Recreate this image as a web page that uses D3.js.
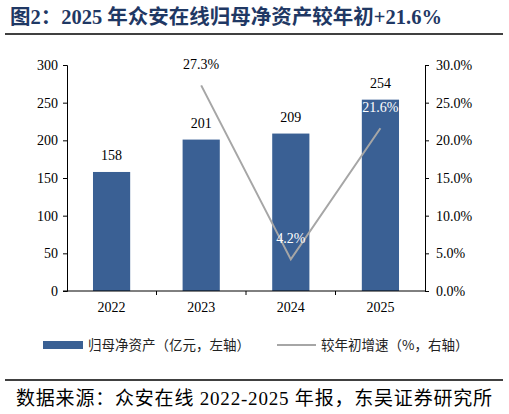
<!DOCTYPE html>
<html>
<head>
<meta charset="utf-8">
<script src="https://cdn.jsdelivr.net/npm/d3@7"></script>
<style>
  body { margin: 0; background: #fff; }
  svg { display: block; }
  text { font-family: "Liberation Serif", "Times New Roman", "Noto Sans CJK SC", serif; }
</style>
</head>
<body>
<svg width="509" height="414"></svg>
<script>
// data
var years = ['2022', '2023', '2024', '2025'];
var netAssets = [158, 201, 209, 254];          // 亿元, left axis
var growth = [null, 27.3, 4.2, 21.6];          // %, right axis
var leftTicks = [0, 50, 100, 150, 200, 250, 300];
var rightTicks = [0, 5, 10, 15, 20, 25, 30];

var svg = d3.select('svg');
var plotLeft = 67, plotRight = 425, plotTop = 65, plotBottom = 291;

// title + rule
svg.append('text')
    .attr('x', 10).attr('y', 24)
    .attr('fill', '#1F3864')
    .attr('font-size', 20.5).attr('font-weight', 'bold')
    .style('font-family', '"Liberation Serif", "Noto Sans CJK SC", serif')
    .text('图2：2025 年众安在线归母净资产较年初+21.6%');
svg.append('line').attr('x1', 5).attr('x2', 503).attr('y1', 34).attr('y2', 34)
    .attr('stroke', '#000').attr('stroke-width', 1.5);

var x = d3.scaleBand().domain(years).range([plotLeft, plotRight]).paddingInner(0.585).paddingOuter(0.29);
var xb = d3.scaleBand().domain(years).range([plotLeft, plotRight]); // for boundary ticks
var y = d3.scaleLinear().domain([0, 300]).range([plotBottom, plotTop]);
var y2 = d3.scaleLinear().domain([0, 30]).range([plotBottom, plotTop]);

// bars
svg.selectAll('.bar').data(netAssets).enter().append('rect')
    .attr('x', (d, i) => x(years[i]))
    .attr('width', x.bandwidth())
    .attr('y', d => y(d))
    .attr('height', d => plotBottom - y(d))
    .attr('fill', '#3A6094');

svg.selectAll('.blab').data(netAssets).enter().append('text')
    .attr('x', (d, i) => x(years[i]) + x.bandwidth() / 2)
    .attr('y', d => y(d) - 12)
    .attr('text-anchor', 'middle').attr('font-size', 14).attr('fill', '#000')
    .text(d => d);

// left axis
var gl = svg.append('g').attr('transform', 'translate(' + plotLeft + ',0)')
    .call(d3.axisLeft(y).tickValues(leftTicks).tickSize(4).tickPadding(5));
// right axis
var gr = svg.append('g').attr('transform', 'translate(' + plotRight + ',0)')
    .call(d3.axisRight(y2).tickValues(rightTicks).tickSize(4).tickPadding(7)
        .tickFormat(d => d.toFixed(1) + '%'));
[gl, gr].forEach(g => {
    g.select('.domain').attr('stroke', '#000');
    g.selectAll('.tick line').attr('stroke', '#000');
    g.selectAll('.tick text').attr('font-size', 14).attr('fill', '#000')
        .style('font-family', '"Liberation Serif", serif');
});

// bottom axis
svg.append('line').attr('x1', plotLeft - 4).attr('x2', plotRight).attr('y1', plotBottom).attr('y2', plotBottom)
    .attr('stroke', '#000');
svg.selectAll('.xt').data(years.slice(1)).enter().append('line')
    .attr('x1', d => xb(d)).attr('x2', d => xb(d))
    .attr('y1', plotBottom).attr('y2', plotBottom + 4).attr('stroke', '#000');
svg.selectAll('.xl').data(years).enter().append('text')
    .attr('x', d => x(d) + x.bandwidth() / 2).attr('y', plotBottom + 21)
    .attr('text-anchor', 'middle').attr('font-size', 14).attr('fill', '#000')
    .text(d => d);

// growth line
var pts = growth.map((g, i) => ({ year: years[i], v: g })).filter(d => d.v !== null);
var line = d3.line().x(d => x(d.year) + x.bandwidth() / 2).y(d => y2(d.v));
svg.append('path').datum(pts).attr('d', line)
    .attr('fill', 'none').attr('stroke', '#A6A6A6').attr('stroke-width', 2);
svg.selectAll('.glab').data(pts).enter().append('text')
    .attr('x', d => x(d.year) + x.bandwidth() / 2)
    .attr('y', d => y2(d.v) - 16)
    .attr('text-anchor', 'middle').attr('font-size', 14)
    .attr('fill', d => d.year === '2023' ? '#000' : '#fff')
    .text(d => d.v.toFixed(1) + '%');

// legend
var lg = svg.append('g');
lg.append('rect').attr('x', 43).attr('y', 341).attr('width', 40).attr('height', 8).attr('fill', '#3A6094');
lg.append('text').attr('x', 88).attr('y', 350).attr('font-size', 13.5).attr('fill', '#222')
    .style('font-family', '"Noto Sans CJK SC", sans-serif')
    .text('归母净资产（亿元，左轴）');
lg.append('line').attr('x1', 277).attr('x2', 316).attr('y1', 345).attr('y2', 345)
    .attr('stroke', '#A6A6A6').attr('stroke-width', 2);
lg.append('text').attr('x', 321).attr('y', 350).attr('font-size', 13.5).attr('fill', '#222')
    .style('font-family', '"Noto Sans CJK SC", sans-serif')
    .text('较年初增速（%，右轴）');

// source
svg.append('line').attr('x1', 5).attr('x2', 503).attr('y1', 380).attr('y2', 380)
    .attr('stroke', '#000').attr('stroke-width', 1.5);
svg.append('text').attr('x', 16).attr('y', 405).attr('font-size', 19).attr('fill', '#000')
    .attr('letter-spacing', 0.8)
    .style('font-family', '"Liberation Serif", "Noto Sans CJK SC", serif')
    .text('数据来源：众安在线 2022-2025 年报，东吴证券研究所');
</script>
</body>
</html>
